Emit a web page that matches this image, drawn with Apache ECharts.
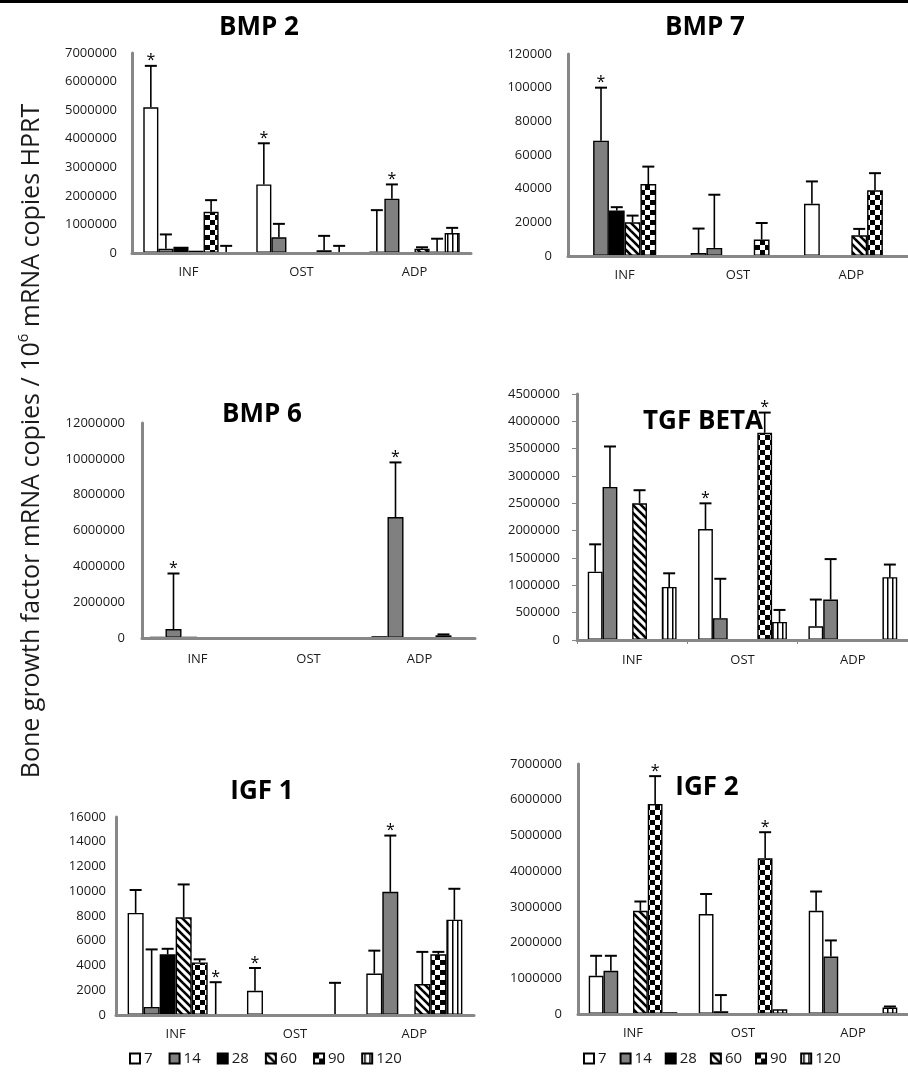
<!DOCTYPE html>
<html><head><meta charset="utf-8">
<script src="https://cdn.jsdelivr.net/npm/echarts@6/dist/echarts.min.js"></script>
<style>html,body{margin:0;padding:0;background:#fff}#c{width:908px;height:1073px}</style>
</head><body><div id="c"></div>
<script>
// ---------- DATA ----------
const categories = ['INF', 'OST', 'ADP'];
const dayNames = ['7', '14', '28', '60', '90', '120'];

// means: one row per day series (7,14,28,60,90,120), columns INF, OST, ADP
const bmp2Mean = [[5100000, 2400000, 50000], [150000, 550000, 1900000], [220000, 0, 0], [80000, 0, 150000], [1440000, 100000, 50000], [0, 0, 700000]];
const bmp2Sd   = [[1450000, 1440000, 1450000], [500000, 470000, 500000], [0, 0, 0], [0, 0, 50000], [410000, 500000, 450000], [250000, 250000, 180000]];
const bmp2Stars = [[0, 0], [1, 0], [2, 1]];

const bmp7Mean = [[0, 1800, 31000], [68500, 4800, 0], [27000, 0, 0], [20000, 0, 12300], [42700, 9800, 39000], [0, 0, 0]];
const bmp7Sd   = [[0, 14500, 13300], [31500, 31600, 0], [2000, 0, 0], [4000, 0, 3800], [10400, 9800, 10200], [0, 0, 0]];
const bmp7Stars = [[0, 1]];

const bmp6Mean = [[50000, 30000, 100000], [500000, 0, 6750000], [50000, 20000, 0], [0, 0, 30000], [0, 40000, 150000], [0, 0, 30000]];
const bmp6Sd   = [[0, 0, 0], [3100000, 0, 3050000], [0, 0, 0], [0, 0, 0], [0, 0, 50000], [0, 0, 0]];
const bmp6Stars = [[0, 1], [2, 1]];

const tgfMean = [[1250000, 2030000, 250000], [2800000, 400000, 740000], [0, 0, 0], [2500000, 0, 0], [0, 3790000, 0], [970000, 330000, 1150000]];
const tgfSd   = [[500000, 470000, 490000], [740000, 720000, 740000], [0, 0, 0], [240000, 0, 0], [0, 370000, 0], [250000, 220000, 230000]];
const tgfStars = [[1, 0], [1, 4]];

const igf1Mean = [[8250, 1950, 3350], [650, 0, 9950], [4900, 0, 0], [7900, 0, 2500], [4250, 0, 4900], [0, 0, 7700]];
const igf1Sd   = [[1850, 1850, 1850], [4650, 0, 4550], [450, 0, 0], [2650, 0, 2600], [250, 0, 200], [2650, 2600, 2500]];
const igf1Stars = [[0, 5], [1, 0], [2, 1]];

const igf2Mean = [[1070000, 2800000, 2890000], [1210000, 80000, 1610000], [0, 0, 0], [2890000, 0, 0], [5880000, 4360000, 0], [50000, 130000, 180000]];
const igf2Sd   = [[560000, 560000, 540000], [420000, 450000, 450000], [0, 0, 0], [260000, 0, 0], [780000, 730000, 0], [0, 0, 30000]];
const igf2Stars = [[0, 4], [1, 4]];

// ---------- PATTERNS ----------
function makePattern(kind) {
  const c = document.createElement('canvas');
  const ctx = c.getContext('2d');
  if (kind === 'diag') {
    c.width = 8; c.height = 8;
    ctx.fillStyle = '#fff'; ctx.fillRect(0, 0, 8, 8);
    ctx.strokeStyle = '#000'; ctx.lineWidth = 2.6;
    for (let k = -1; k <= 1; k++) {
      ctx.beginPath(); ctx.moveTo(-2, -2 + 8 * k); ctx.lineTo(10, 10 + 8 * k); ctx.stroke();
    }
  } else if (kind === 'checker') {
    c.width = 10; c.height = 10;
    ctx.fillStyle = '#fff'; ctx.fillRect(0, 0, 10, 10);
    ctx.fillStyle = '#000'; ctx.fillRect(0, 0, 5, 5); ctx.fillRect(5, 5, 5, 5);
  } else if (kind === 'vert') {
    c.width = 5; c.height = 4;
    ctx.fillStyle = '#fff'; ctx.fillRect(0, 0, 5, 4);
    ctx.fillStyle = '#000'; ctx.fillRect(2, 0, 1.5, 4);
  }
  return { image: c, repeat: 'repeat' };
}
const fills = ['#ffffff', '#808080', '#000000', makePattern('diag'), makePattern('checker'), makePattern('vert')];

// ---------- LAYOUT ----------
const FONT = '"Open Sans", "Liberation Sans", sans-serif';
const panels = [
  { title: 'BMP 2', mean: bmp2Mean, sd: bmp2Sd, stars: bmp2Stars, max: 7000000, interval: 1000000,
    grid: { left: 132, top: 53, width: 339, height: 200 }, gap: 0.20, tpos: [259, 28], ym: 15, xm: 13, ticks: false },
  { title: 'BMP 7', mean: bmp7Mean, sd: bmp7Sd, stars: bmp7Stars, max: 120000, interval: 20000,
    grid: { left: 568, top: 54, width: 345, height: 202 }, gap: 0.165, tpos: [705, 28], ym: 16, xm: 13, ticks: false },
  { title: 'BMP 6', mean: bmp6Mean, sd: bmp6Sd, stars: bmp6Stars, max: 12000000, interval: 2000000,
    grid: { left: 142, top: 423, width: 333, height: 215 }, gap: 0.135, tpos: [262, 415], ym: 17, xm: 15, ticks: false },
  { title: 'TGF BETA', mean: tgfMean, sd: tgfSd, stars: tgfStars, max: 4500000, interval: 500000,
    grid: { left: 577, top: 394, width: 342, height: 246 }, gap: 0.195, tpos: [703, 422], ym: 17, xm: 14, ticks: true },
  { title: 'IGF 1', mean: igf1Mean, sd: igf1Sd, stars: igf1Stars, max: 16000, interval: 2000,
    grid: { left: 116, top: 817, width: 358, height: 198 }, gap: 0.195, tpos: [262, 792], ym: 10, xm: 13, ticks: false },
  { title: 'IGF 2', mean: igf2Mean, sd: igf2Sd, stars: igf2Stars, max: 7000000, interval: 1000000,
    grid: { left: 578, top: 764, width: 342, height: 250 }, gap: 0.195, tpos: [707, 788], ym: 16, xm: 13, ticks: false }
];

const grids = [], xAxes = [], yAxes = [], series = [], graphics = [];
panels.forEach((p, pi) => {
  grids.push(Object.assign({ containLabel: false }, p.grid));
  xAxes.push({
    gridIndex: pi, type: 'category', data: categories, z: 5,
    axisLine: { lineStyle: { color: '#878787', width: 3 } },
    axisTick: { show: p.ticks, length: 4, lineStyle: { color: '#878787', width: 1 } },
    axisLabel: { margin: p.xm, fontSize: 13, color: '#1a1a1a', fontFamily: FONT }
  });
  yAxes.push({
    gridIndex: pi, type: 'value', min: 0, max: p.max, interval: p.interval, z: 5,
    axisLine: { show: true, lineStyle: { color: '#878787', width: 3 } },
    axisTick: { show: p.ticks, length: 5, lineStyle: { color: '#878787', width: 1 } },
    splitLine: { show: false },
    axisLabel: { margin: p.ym, fontSize: 13, color: '#1a1a1a', fontFamily: FONT, formatter: v => String(v) }
  });
  dayNames.forEach((dn, si) => {
    series.push({
      type: 'bar', name: dn, xAxisIndex: pi, yAxisIndex: pi,
      data: p.mean[si], barGap: '0%', barCategoryGap: (p.gap * 100) + '%',
      itemStyle: { color: fills[si], borderColor: '#000', borderWidth: 1.4 },
      emphasis: { disabled: true }, z: 2
    });
  });
  const errData = [];
  const starSet = new Set(p.stars.map(s => s[0] + '_' + s[1]));
  p.mean.forEach((row, si) => row.forEach((m, ci) => {
    const star = starSet.has(ci + '_' + si) ? 1 : 0;
    if (p.sd[si][ci] > 0 || star) errData.push([ci, m, p.sd[si][ci], si, star]);
  }));
  const gap = p.gap;
  series.push({
    type: 'custom', xAxisIndex: pi, yAxisIndex: pi, z: 3, silent: true,
    encode: { x: 0, y: 1 },
    data: errData,
    renderItem: function (params, api) {
      const ci = api.value(0), m = api.value(1), sd = api.value(2), si = api.value(3), star = api.value(4);
      const band = api.size([1, 0])[0];
      const used = band * (1 - gap);
      const w = used / 6;
      const cx = api.coord([ci, 0])[0] - used / 2 + w * (si + 0.5);
      const yb = api.coord([ci, m])[1];
      const yt = api.coord([ci, m + sd])[1];
      const ch = [];
      if (sd > 0) {
        ch.push({ type: 'line', shape: { x1: cx, y1: yb, x2: cx, y2: yt }, style: { stroke: '#000', lineWidth: 1.6 } });
        ch.push({ type: 'line', shape: { x1: cx - 6, y1: yt, x2: cx + 6, y2: yt }, style: { stroke: '#000', lineWidth: 2 } });
      }
      if (star) {
        ch.push({ type: 'text', x: cx, y: yt + 3, style: { text: '*', textAlign: 'center', textVerticalAlign: 'bottom', font: '16px ' + FONT, fill: '#000' } });
      }
      return { type: 'group', children: ch };
    }
  });
  graphics.push({ type: 'text', x: p.tpos[0], y: p.tpos[1], z: 10,
    style: { text: p.title, textAlign: 'center', textVerticalAlign: 'middle', font: 'bold 26px ' + FONT, fill: '#000' } });
});

graphics.push({ type: 'rect', shape: { x: 0, y: 0, width: 908, height: 3 }, style: { fill: '#000' } });
graphics.push({
  type: 'text', x: 32, y: 441, rotation: Math.PI / 2,
  style: {
    text: '{a|Bone growth factor mRNA copies / 10}{b|6}{a| mRNA copies HPRT}',
    textAlign: 'center', textVerticalAlign: 'middle',
    rich: {
      a: { fontSize: 25, fontFamily: FONT, fill: '#1a1a1a', lineHeight: 32 },
      b: { fontSize: 15, fontFamily: FONT, fill: '#1a1a1a', verticalAlign: 'top', lineHeight: 32, padding: [0, 0, 13, 0] }
    }
  }
});

const legendBase = {
  data: dayNames, icon: 'rect', itemWidth: 10, itemHeight: 10, itemGap: 14, selectedMode: false,
  textStyle: { fontSize: 15, color: '#1a1a1a', fontFamily: FONT, padding: [0, 0, 0, -1] }
};

const chart = echarts.init(document.getElementById('c'), null, { renderer: 'canvas' });
chart.setOption({
  animation: false,
  backgroundColor: '#fff',
  grid: grids, xAxis: xAxes, yAxis: yAxes, series: series,
  legend: [
    Object.assign({}, legendBase, { left: 124, top: 1046, itemGap: 16 }),
    Object.assign({}, legendBase, { left: 578, top: 1046, itemGap: 13 })
  ],
  graphic: graphics
});
</script></body></html>
